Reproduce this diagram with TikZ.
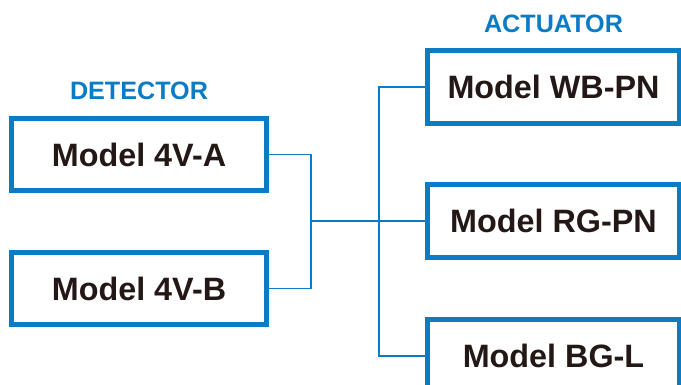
\documentclass[tikz,border=0pt]{standalone}
\usepackage{fontspec}
\setmainfont{Liberation Sans}
\usepackage{xcolor}
\usepackage{tikz}
\usetikzlibrary{positioning}
\definecolor{linkblue}{HTML}{0A7CC6}
\definecolor{inkblack}{HTML}{231815}

\begin{document}
\begin{tikzpicture}[
    model/.style={rectangle, draw=linkblue, line width=3.5pt, fill=white, minimum width=6.375cm, minimum height=1.8cm, align=center, text=inkblack, font=\fontsize{23}{27}\selectfont\bfseries},
    group/.style={inner sep=0pt, text=linkblue, font=\fontsize{17.9}{21}\selectfont\bfseries},
    wire/.style={draw=linkblue, line width=1.4pt}
]
\useasboundingbox (0,0) rectangle (17.025,9.625);
\clip (0,0) rectangle (17.025,9.625);

% Detectors
\node[model] (detA) at (3.475,5.7625) {Model 4V-A};
\node[model] (detB) at (3.475,2.4125) {Model 4V-B};
\node[group, above=0.4cm of detA.north] {DETECTOR};

% Actuators
\node[model, minimum width=6.3cm, minimum height=1.825cm] (wbpn) at (13.8375,7.45) {Model WB-PN};
\node[model, minimum width=6.3cm, minimum height=1.825cm] (rgpn) at (13.8375,4.1) {Model RG-PN};
\node[model, minimum width=6.3cm, minimum height=1.825cm] (bgl) at (13.8375,0.725) {Model BG-L};
\node[group, above=0.375cm of wbpn.north] {ACTUATOR};

% Connections
\coordinate (join) at (7.775,4.1);
\coordinate (split) at (9.475,4.1);
\draw[wire] (detA.east) -| (join) |- (detB.east);
\draw[wire] (join) -- (split);
\draw[wire] (wbpn.west) -| (split) |- (bgl.west);
\draw[wire] (split) -- (rgpn.west);

\end{tikzpicture}
\end{document}
